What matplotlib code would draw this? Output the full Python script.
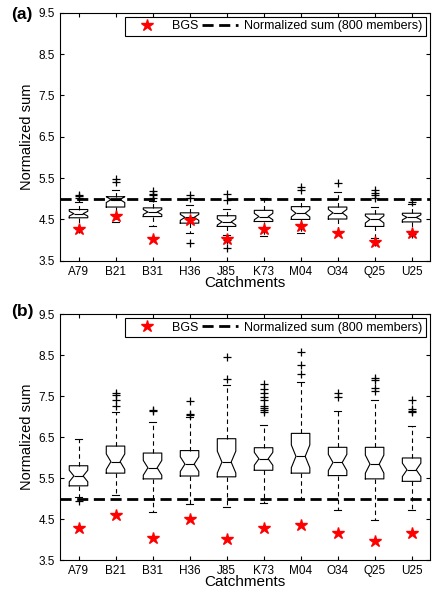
import matplotlib.pyplot as plt
from matplotlib.lines import Line2D

plt.rcParams['font.family'] = ['Liberation Sans', 'DejaVu Sans']

catchments = ['A79', 'B21', 'B31', 'H36', 'J85', 'K73', 'M04', 'O34', 'Q25', 'U25']

# BGS reference values per catchment (same in both panels)
bgs = [4.27, 4.59, 4.03, 4.49, 4.02, 4.27, 4.35, 4.17, 3.96, 4.16]
norm_sum = 5.0

# panel (a) box statistics
a_q1 = [4.54, 4.80, 4.57, 4.41, 4.33, 4.45, 4.50, 4.51, 4.33, 4.44]
a_med = [4.64, 4.98, 4.68, 4.55, 4.44, 4.57, 4.65, 4.66, 4.50, 4.55]
a_q3 = [4.74, 5.05, 4.78, 4.66, 4.59, 4.72, 4.81, 4.80, 4.63, 4.65]
a_wlo = [4.30, 4.45, 4.33, 4.17, 4.12, 4.09, 4.18, 4.20, 4.05, 4.22]
a_whi = [4.91, 5.22, 4.95, 4.85, 4.75, 5.02, 5.00, 5.17, 4.80, 4.88]
a_fliers = [[4.27, 5.02, 5.06, 5.10],
            [5.40, 5.48],
            [5.02, 5.08, 5.12, 5.19],
            [3.92, 5.02, 5.10],
            [3.80, 4.00, 4.98, 5.12],
            [],
            [5.22, 5.29],
            [5.38],
            [3.96, 5.02, 5.10, 5.15, 5.22],
            [4.15, 4.93]]

# panel (b) box statistics
b_q1 = [5.31, 5.62, 5.48, 5.55, 5.53, 5.69, 5.62, 5.56, 5.48, 5.42]
b_med = [5.55, 5.90, 5.75, 5.84, 5.89, 5.97, 6.03, 5.88, 5.84, 5.70]
b_q3 = [5.80, 6.28, 6.11, 6.17, 6.46, 6.24, 6.59, 6.25, 6.25, 5.99]
b_wlo = [5.04, 5.09, 4.66, 4.86, 4.80, 4.89, 5.00, 4.72, 4.48, 4.72]
b_whi = [6.46, 7.12, 6.87, 7.00, 7.77, 6.80, 7.85, 7.14, 7.41, 6.78]
b_fliers = [[4.95],
            [7.26, 7.41, 7.53, 7.57],
            [7.14, 7.16],
            [7.04, 7.06, 7.39],
            [7.92, 8.45],
            [7.12, 7.16, 7.22, 7.27, 7.41, 7.47, 7.57, 7.68, 7.80],
            [8.05, 8.26, 8.57],
            [7.47, 7.57],
            [7.62, 7.69, 7.90, 7.95],
            [7.12, 7.14, 7.18, 7.41]]

n_members = 30
yticks = [3.5, 4.5, 5.5, 6.5, 7.5, 8.5, 9.5]
dash = (0, (4, 2))


def make_stats(q1, med, q3, wlo, whi, fliers):
    stats = []
    for i in range(len(med)):
        half = 1.57 * (q3[i] - q1[i]) / n_members ** 0.5
        stats.append(dict(med=med[i], q1=q1[i], q3=q3[i],
                          whislo=wlo[i], whishi=whi[i], fliers=fliers[i],
                          cilo=med[i] - half, cihi=med[i] + half))
    return stats


def draw_panel(ax, stats):
    pos = list(range(1, len(catchments) + 1))
    ax.bxp(stats, positions=pos, widths=0.5, shownotches=True, capwidths=0.2,
           boxprops=dict(color='black', linewidth=0.8),
           medianprops=dict(color='black', linewidth=0.8),
           whiskerprops=dict(color='black', linewidth=0.8, linestyle=(0, (4, 3))),
           capprops=dict(color='black', linewidth=0.8),
           flierprops=dict(marker='+', markeredgecolor='black', markersize=6,
                           markeredgewidth=0.9))
    ax.axhline(norm_sum, color='black', linestyle=dash, linewidth=2, zorder=4)
    ax.plot(pos, bgs, linestyle='none', marker='*', color='red', markersize=9,
            markeredgecolor='red', zorder=5)

    ax.set_xlim(0.5, 10.5)
    ax.set_ylim(3.5, 9.5)
    ax.set_yticks(yticks)
    ax.set_yticklabels(['%.1f' % v for v in yticks])
    ax.set_xticks(pos)
    ax.set_xticklabels(catchments)
    ax.tick_params(direction='in', top=True, right=True, labelsize=8.5, length=3)
    ax.set_xlabel('Catchments', fontsize=11, labelpad=-1)
    ax.set_ylabel('Normalized sum', fontsize=10.5, labelpad=3)

    handles = [Line2D([], [], linestyle='none', marker='*', color='red', markersize=9),
               Line2D([], [], color='black', linestyle=dash, linewidth=2)]
    leg = ax.legend(handles, ['BGS', 'Normalized sum (800 members)'], ncol=2,
                    loc='upper right', fontsize=9, fancybox=False, framealpha=1,
                    borderaxespad=0.3, handlelength=2.9, columnspacing=0.3,
                    handletextpad=0.5, borderpad=0.3)
    leg.get_frame().set_edgecolor('black')
    leg.get_frame().set_linewidth(0.8)


fig = plt.figure(figsize=(4.38, 5.94), dpi=100)
ax_a = fig.add_axes([0.137, 0.561, 0.845, 0.4175])
ax_b = fig.add_axes([0.137, 0.0572, 0.845, 0.414])

draw_panel(ax_a, make_stats(a_q1, a_med, a_q3, a_wlo, a_whi, a_fliers))
draw_panel(ax_b, make_stats(b_q1, b_med, b_q3, b_wlo, b_whi, b_fliers))

fig.text(0.025, 0.975, '(a)', fontsize=12.5, fontweight='bold', va='center')
fig.text(0.025, 0.476, '(b)', fontsize=12.5, fontweight='bold', va='center')

fig.savefig('out.png', dpi=100)
